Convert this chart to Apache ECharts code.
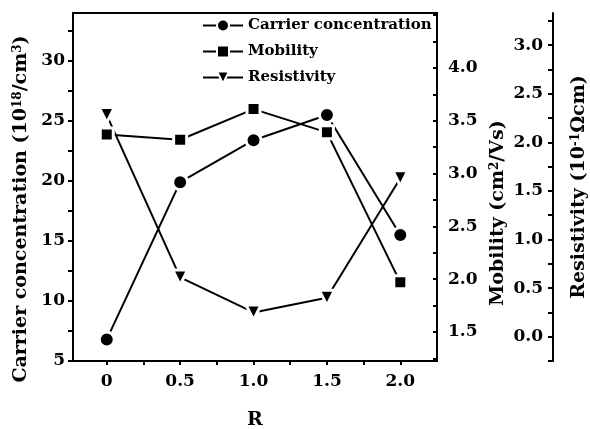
<!DOCTYPE html>
<html>
<head>
<meta charset="utf-8">
<script src="https://cdn.jsdelivr.net/npm/echarts@6/dist/echarts.min.js"></script>
<style>
  html, body { margin: 0; padding: 0; background: #fff; }
  #chart { width: 590px; height: 429px; }
</style>
</head>
<body>
<div id="chart"></div>
<script>
// Values.
const R = [0, 0.5, 1.0, 1.5, 2.0];
const carrier = [6.8, 19.9, 23.4, 25.5, 15.5];      // 10^18 /cm^3
const mobility = [3.37, 3.32, 3.61, 3.39, 1.97];    // cm^2/Vs
const resistivity = [2.28, 0.61, 0.25, 0.40, 1.63]; // 10^-1 ohm cm

const xLabels = [0, 0.5, 1.0, 1.5, 2.0];
const xTicks = [0, 0.25, 0.5, 0.75, 1.0, 1.25, 1.5, 1.75, 2.0];
const carrierLabels = [5, 10, 15, 20, 25, 30];
const carrierTicks = [5, 7.5, 10, 12.5, 15, 17.5, 20, 22.5, 25, 27.5, 30, 32.5];
const mobilityLabels = [1.5, 2.0, 2.5, 3.0, 3.5, 4.0];
const mobilityTicks = [1.25, 1.5, 1.75, 2.0, 2.25, 2.5, 2.75, 3.0, 3.25, 3.5, 3.75, 4.0, 4.25, 4.5];
const resLabels = [0, 0.5, 1.0, 1.5, 2.0, 2.5, 3.0];
const resTicks = [-0.25, 0, 0.25, 0.5, 0.75, 1.0, 1.25, 1.5, 1.75, 2.0, 2.25, 2.5, 2.75, 3.0, 3.25];

const FONT = 'DejaVu Serif';
const INK = '#000';

const LABEL = { color: INK, fontFamily: FONT, fontWeight: 'bold', fontSize: 17 };
const NAME = {
  color: INK, fontFamily: FONT, fontWeight: 'bold', fontSize: 19,
  rich: { sup: { color: INK, fontFamily: FONT, fontWeight: 'bold', fontSize: 12, verticalAlign: 'top' } },
};
// onZero off: axes stay on the frame edges, not at some other axis' zero.
const LINE = { show: true, onZero: false, lineStyle: { color: INK, width: 2 } };
const fmt1 = v => v.toFixed(1);

const pairs = ys => R.map((r, i) => [r, ys[i]]);

const chart = echarts.init(document.getElementById('chart'), null, { renderer: 'canvas' });

chart.setOption({
  animation: false,
  backgroundColor: '#fff',
  grid: {
    left: 73, right: 153, top: 13, bottom: 68,
    outerBoundsMode: 'none',   // keep the frame where it is; the right title sits at the edge
    show: true, borderColor: INK, borderWidth: 2, backgroundColor: 'transparent',
  },
  legend: {
    orient: 'vertical', left: 197, top: 13,
    itemWidth: 40, itemHeight: 15, itemGap: 11,
    textStyle: { color: INK, fontFamily: FONT, fontWeight: 'bold', fontSize: 15 },
    data: ['Carrier concentration', 'Mobility', 'Resistivity'],
  },
  xAxis: {
    type: 'value', min: -0.23, max: 2.25,
    axisLine: LINE,
    axisTick: { show: true, length: 4, lineStyle: { color: INK, width: 2 }, customValues: xTicks },
    axisLabel: { ...LABEL, margin: 12, customValues: xLabels, formatter: v => v === 0 ? '0' : fmt1(v) },
    splitLine: { show: false },
    name: 'R', nameLocation: 'middle', nameGap: 50, nameTextStyle: NAME,
  },
  yAxis: [
    {
      type: 'value', position: 'left', min: 5, max: 34,
      axisLine: LINE,
      axisTick: { show: true, length: 5, lineStyle: { color: INK, width: 2 }, customValues: carrierTicks },
      axisLabel: { ...LABEL, margin: 8, customValues: carrierLabels },
      splitLine: { show: false },
      name: 'Carrier concentration (10{sup|18}/cm{sup|3})',
      nameLocation: 'middle', nameGap: 42,
      nameTextStyle: { ...NAME, padding: [0, 44, 0, 0] },
    },
    {
      type: 'value', position: 'right', offset: 0, min: 1.225, max: 4.52,
      axisLine: LINE,
      axisTick: { show: true, inside: true, length: 4, lineStyle: { color: INK, width: 2 }, customValues: mobilityTicks },
      axisLabel: { ...LABEL, margin: 11, customValues: mobilityLabels, formatter: fmt1 },
      splitLine: { show: false },
      name: 'Mobility (cm{sup|2}/Vs)',
      nameLocation: 'middle', nameGap: 50,
      nameTextStyle: { ...NAME, padding: [0, 52, 0, 0] },
    },
    {
      type: 'value', position: 'right', offset: 116, min: -0.25, max: 3.33,
      axisLine: LINE,
      axisTick: { show: true, inside: true, length: 5, lineStyle: { color: INK, width: 2 }, customValues: resTicks },
      axisLabel: { ...LABEL, inside: true, margin: 10, customValues: resLabels, formatter: fmt1 },
      splitLine: { show: false },
      name: 'Resistivity (10{sup|-1}Ωcm)',
      nameLocation: 'middle', nameGap: 17,
      nameTextStyle: NAME,
    },
  ],
  series: [
    {
      name: 'Carrier concentration', type: 'line', yAxisIndex: 0, data: pairs(carrier),
      symbol: 'circle', symbolSize: 15,
      lineStyle: { color: INK, width: 2 },
      itemStyle: { color: INK, borderColor: '#fff', borderWidth: 3 },
    },
    {
      name: 'Mobility', type: 'line', yAxisIndex: 1, data: pairs(mobility),
      symbol: 'rect', symbolSize: 13,
      lineStyle: { color: INK, width: 2 },
      itemStyle: { color: INK, borderColor: '#fff', borderWidth: 3 },
    },
    {
      name: 'Resistivity', type: 'line', yAxisIndex: 2, data: pairs(resistivity),
      symbol: 'triangle', symbolRotate: 180, symbolSize: 15,
      lineStyle: { color: INK, width: 2 },
      itemStyle: { color: INK, borderColor: '#fff', borderWidth: 3 },
    },
  ],
});
</script>
</body>
</html>
